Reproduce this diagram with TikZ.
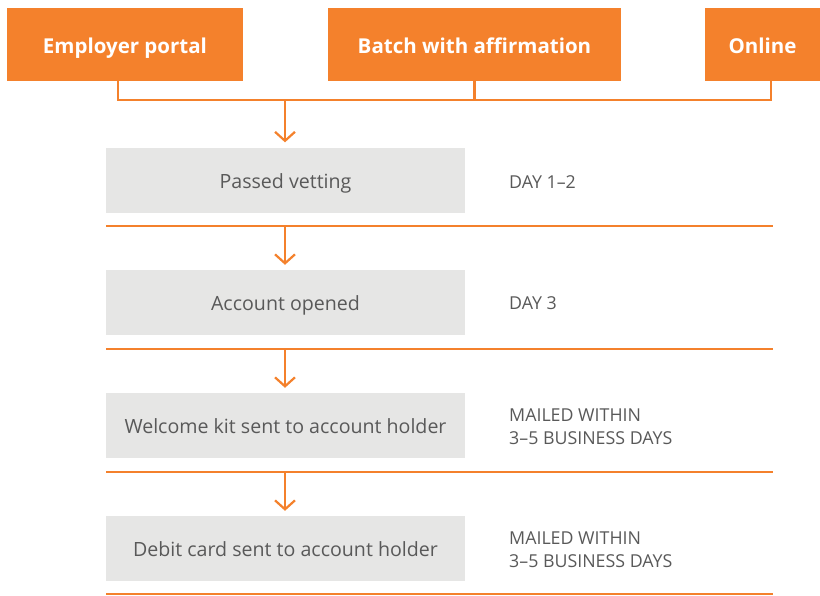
\documentclass[tikz,border=0pt]{standalone}
\usepackage{fontspec}
\setmainfont{Open Sans}
\usepackage{xcolor}
\usepackage{tikz}
\usetikzlibrary{calc}
\usetikzlibrary{arrows.meta,positioning}

\definecolor{brandorange}{HTML}{F4812C}
\definecolor{stepgray}{HTML}{E6E6E5}
\definecolor{textgray}{HTML}{595959}

\begin{document}
\begin{tikzpicture}[x=1pt,y=-1pt,
	source/.style={fill=brandorange,text=white,minimum height=73pt,inner sep=0pt,
		text height=17pt,text depth=0pt,font=\fontsize{20.5}{24}\selectfont\bfseries},
	stepbox/.style={fill=stepgray,text=textgray,minimum width=359pt,minimum height=65pt,
		inner sep=0pt,text height=16pt,text depth=0pt,font=\fontsize{19.6}{23}\selectfont},
	timing/.style={anchor=west,text=textgray,align=left,inner sep=0pt,
		font=\fontsize{17.8}{23}\selectfont},
	flow/.style={draw=brandorange,line width=2.2pt},
	arr/.style={-{Straight Barb[length=9pt,width=20pt,line width=2.2pt]},shorten >=5pt}]
	\useasboundingbox (0,0) rectangle (820,595);
	% the three ways in
	\node[source,minimum width=236pt] (ep) at (125,44.5) {Employer portal};
	\node[source,minimum width=293pt] (bat) at (474.5,44.5) {Batch with affirmation};
	\node[source,minimum width=115pt] (onl) at (762.5,44.5) {Online};
	\coordinate (bus) at (474,100);
	\coordinate (j) at (285,100);
	\draw[flow] ([xshift=-7pt]ep.south) |- (bus) -| ([xshift=8.5pt]onl.south);
	\draw[flow] (bat.south) -- (bat.south |- bus);
	% steps
	\node[stepbox] (pv) at (285.5,180) {Passed vetting};
	\node[stepbox] (ao) at (285.5,302.5) {Account opened};
	\node[stepbox] (wk) at (285.5,425.5) {Welcome kit sent to account holder};
	\node[stepbox] (dc) at (285.5,548.5) {Debit card sent to account holder};
	\node[timing] (t1) at (509,182) {DAY 1--2};
	\node[timing] (t2) at (509,303) {DAY 3};
	\node[timing] (t3) at (509,426.5) {MAILED WITHIN\\3--5 BUSINESS DAYS};
	\node[timing] (t4) at (509,549.5) {MAILED WITHIN\\3--5 BUSINESS DAYS};
	% separators
	\foreach \y/\n in {226/s1,349/s2,472/s3,594/s4}{
		\coordinate (\n a) at (106,\y);
		\coordinate (\n b) at (773,\y);
		\draw[flow] (\n a) -- (\n b);
	}
	\coordinate (s1) at (285,226);
	\coordinate (s2) at (285,349);
	\coordinate (s3) at (285,472);
	\draw[flow,arr] (j) -- (j |- pv.north);
	\draw[flow,arr] (s1) -- (s1 |- ao.north);
	\draw[flow,arr] (s2) -- (s2 |- wk.north);
	\draw[flow,arr] (s3) -- (s3 |- dc.north);
\end{tikzpicture}
\end{document}
